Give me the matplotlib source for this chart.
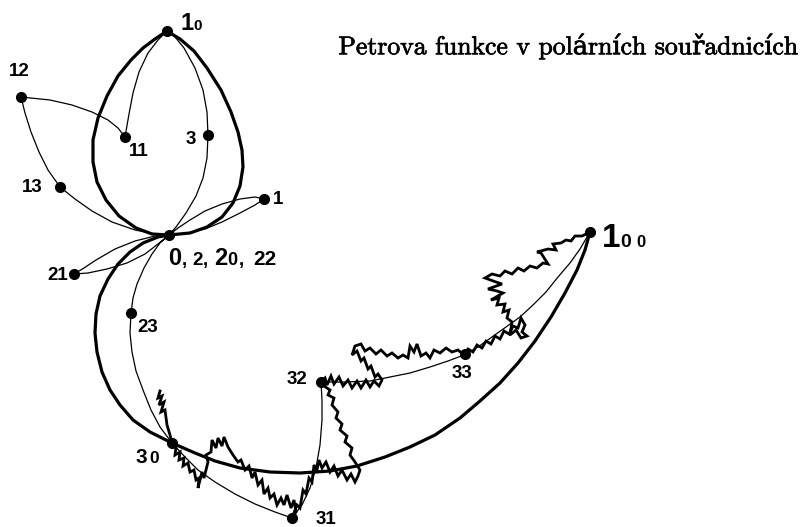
import matplotlib.pyplot as plt
import matplotlib.patheffects as pe

# --- points of the 2nd approximation (base-4 labels), pixel-like coords, y down ---
pt_labels = ["0", "1", "3", "10", "11", "12", "13", "21", "23", "30", "31", "32", "33", "100"]
pt_x = [169, 264, 208, 167, 125, 21, 60, 74, 131, 172, 292, 321, 465, 590]
pt_y = [235, 199, 135, 31, 137, 97, 187, 274, 313, 443, 518, 382, 354, 232]

# --- 1st approximation (thick): 0 -> 10 -> 20 -> 30 -> 100 ---
thick_x = [169, 190, 207, 222, 233, 240, 243, 242, 238, 231, 221, 207, 194, 180, 167,
           155, 143, 131, 118, 107, 98, 93, 93, 97, 106, 119, 136, 152, 169,
           158, 143, 130, 118, 108, 100, 96, 95, 97, 102, 110, 120, 133, 150, 172,
           195, 215, 240, 270, 300, 330, 357, 385, 410, 435, 460, 480, 500, 518, 535,
           551, 565, 577, 585, 590]
thick_y = [235, 233, 227, 217, 203, 186, 167, 150, 132, 112, 90, 68, 51, 39, 31,
           39, 48, 60, 76, 96, 118, 140, 162, 182, 200, 216, 228, 234, 235,
           237, 243, 252, 264, 279, 296, 314, 333, 352, 372, 390, 405, 420, 432, 443,
           453, 461, 468, 472, 473, 471, 466, 457, 447, 435, 418, 401, 383, 363, 341,
           317, 293, 270, 250, 232]

# --- 2nd approximation (thin): 0,1,2,3,10,...,33,100 ---
thin_x = [169, 178, 190, 205, 222, 240, 255, 264,            # 0 -> 1
          255, 240, 222, 205, 187, 169,                      # 1 -> 2
          176, 186, 196, 203, 207, 208,                      # 2 -> 3
          207, 203, 195, 184, 175, 167,                      # 3 -> 10
          158, 148, 139, 133, 129, 125,                      # 10 -> 11
          118, 108, 92, 72, 50, 21,                          # 11 -> 12
          25, 31, 39, 48, 60,                                # 12 -> 13
          75, 92, 112, 135, 155, 169,                        # 13 -> 20
          155, 135, 115, 96, 84, 74,                         # 20 -> 21
          88, 107, 127, 145, 158, 169,                       # 21 -> 22
          160, 152, 144, 137, 133, 131,                      # 22 -> 23
          130, 132, 136, 143, 151, 160, 172,                 # 23 -> 30
          185, 198, 215, 235, 255, 275, 292,                 # 30 -> 31
          302, 310, 316, 320, 322, 322, 321,                 # 31 -> 32
          345, 370, 390, 410, 430, 448, 464,                 # 32 -> 33
          478, 492, 506, 520, 533, 546, 558, 570, 580, 590]  # 33 -> 100
thin_y = [235, 228, 220, 211, 204, 199, 197, 199,
          205, 213, 222, 229, 233, 235,
          227, 213, 196, 178, 158, 135,
          112, 90, 68, 48, 37, 31,
          40, 53, 72, 93, 114, 137,
          128, 120, 112, 105, 100, 97,
          113, 132, 152, 170, 187,
          199, 211, 222, 230, 234, 235,
          236, 241, 249, 260, 268, 274,
          273, 269, 263, 254, 244, 235,
          243, 254, 268, 284, 298, 313,
          333, 352, 371, 390, 410, 427, 443,
          457, 470, 482, 494, 504, 512, 518,
          505, 488, 468, 445, 420, 400, 382,
          382, 381, 377, 373, 367, 361, 355,
          347, 337, 327, 317, 305, 292, 277, 263, 249, 232]

# --- finer approximation near the end (jagged) ---
jag_x = [160, 158, 162, 159, 164, 161, 165, 167, 170, 172,
         176, 175, 180, 179, 184, 183, 188, 190, 194, 196, 199, 198, 202, 204, 208, 206,
         211, 212, 216, 218, 222, 224, 228, 233, 238, 241, 245, 249, 252, 255, 258, 262,
         264, 268, 270, 274, 277, 281, 284, 287, 291, 294, 296, 292,
         297, 300, 303, 306, 309, 312, 314, 317, 319, 322, 326, 330, 334, 338, 342, 347,
         351, 355, 358, 360, 355, 350, 352, 345, 347, 340, 342, 336, 338, 332, 334, 328,
         330, 324, 321,
         325, 327, 331, 334, 339, 343, 348, 352, 357, 361, 366, 370, 374, 379, 382,
         378, 375, 371, 368, 364, 361, 357, 352, 355, 361, 365, 370, 376, 381, 387, 392,
         398, 403, 408, 410, 414, 417, 421, 426, 430, 434, 440, 446, 452, 458, 464,
         468, 473, 477, 482, 486, 491, 495, 500, 504, 509, 513, 518, 521, 525, 522, 527,
         521, 516, 510, 512, 507, 509, 503, 505, 497, 499, 491, 503, 497, 488, 502, 496,
         485, 492, 500, 505, 512, 518, 524, 530, 537, 543, 548, 541, 537, 548, 556, 553,
         561, 566, 571, 575, 582, 590]
jag_y = [391, 398, 396, 405, 402, 412, 410, 425, 435, 443,
         447, 455, 452, 460, 458, 466, 463, 472, 470, 480, 478, 488, 472, 478, 462, 455,
         452, 440, 448, 438, 446, 437, 447, 455, 462, 460, 470, 466, 478, 472, 485, 480,
         494, 488, 498, 494, 505, 498, 505, 495, 508, 500, 512, 518,
         505, 508, 490, 494, 478, 482, 465, 470, 460, 468, 462, 472, 466, 476, 470, 480,
         474, 482, 476, 470, 462, 455, 448, 442, 436, 430, 424, 418, 412, 405, 398, 395,
         390, 386, 382,
         378, 385, 376, 384, 377, 386, 380, 388, 381, 388, 380, 387, 381, 386, 380,
         374, 377, 366, 369, 358, 361, 351, 355, 346, 344, 351, 348, 354, 350, 356, 353,
         358, 355, 358, 346, 352, 344, 356, 353, 358, 350, 353, 348, 352, 350, 355,
         349, 352, 345, 348, 341, 344, 336, 339, 331, 334, 326, 328, 318, 325, 332, 336,
         338, 330, 335, 322, 318, 310, 312, 304, 305, 298, 300, 293, 291, 289, 284, 282,
         278, 274, 276, 271, 274, 268, 271, 266, 268, 263, 264, 253, 252, 249, 250, 244,
         243, 240, 241, 236, 236, 232]

plt.rcParams['font.family'] = ['Liberation Sans', 'DejaVu Sans']
plt.rcParams['font.weight'] = 'bold'

fig = plt.figure(figsize=(8.07, 5.27), dpi=100)
ax = fig.add_axes([0, 0, 1, 1])
ax.set_xlim(0, 807)
ax.set_ylim(527, 0)
ax.axis('off')

ax.plot(thin_x, thin_y, color='black', lw=0.9, solid_joinstyle='round')
ax.plot(thick_x, thick_y, color='black', lw=2.3, solid_joinstyle='round', solid_capstyle='round')
ax.plot(jag_x, jag_y, color='black', lw=2.0, solid_joinstyle='miter')
ax.plot(pt_x, pt_y, 'o', color='black', ms=7)

# --- labels ---
small = 13.5
lab = dict(color='black', va='center', ha='left')
ax.text(9, 72, "12", fontsize=small, **lab)
ax.text(129, 152, "11", fontsize=small, **lab)
ax.text(186, 140, "3", fontsize=small, **lab)
ax.text(22, 188, "13", fontsize=small, **lab)
ax.text(273, 199, "1", fontsize=small, **lab)
ax.text(47, 275, "21", fontsize=small, **lab)
ax.text(137, 328, "23", fontsize=small, **lab)
ax.text(316, 520, "31", fontsize=small, **lab)
ax.text(287, 380, "32", fontsize=small, **lab)
ax.text(452, 373, "33", fontsize=small, **lab)

lab_b = dict(color='black', va='baseline', ha='left')
# 1_0 on top
ax.text(180, 30, "1", fontsize=17, **lab_b)
ax.text(193, 30, "0", fontsize=11, **lab_b)
# 0, 2, 20, 22
ax.text(168, 265, "0", fontsize=17, **lab_b)
ax.text(182, 265, ",", fontsize=small, **lab_b)
ax.text(192, 265, "2", fontsize=small, **lab_b)
ax.text(203, 265, ",", fontsize=small, **lab_b)
ax.text(214, 265, "2", fontsize=17, **lab_b)
ax.text(227, 265, "0", fontsize=13, **lab_b)
ax.text(239, 265, ",", fontsize=small, **lab_b)
ax.text(253, 265, "22", fontsize=15, **lab_b)
# 3_0
ax.text(136, 463, "3", fontsize=15, **lab_b)
ax.text(149, 463, "0", fontsize=12.5, **lab_b)
# 1_00
ax.text(602, 247, "1", fontsize=24, **lab_b)
ax.text(620, 247, "0", fontsize=14, **lab_b)
ax.text(636, 247, "0", fontsize=12, **lab_b)

ax.text(568, 46, "Petrova funkce v polárních souřadnicích", fontsize=18.5,
        family=['cmr10', 'DejaVu Serif'], fontweight='normal',
        ha='center', va='center', color='black',
        path_effects=[pe.withStroke(linewidth=0.5, foreground='black')])

fig.savefig('out.png', dpi=100)
